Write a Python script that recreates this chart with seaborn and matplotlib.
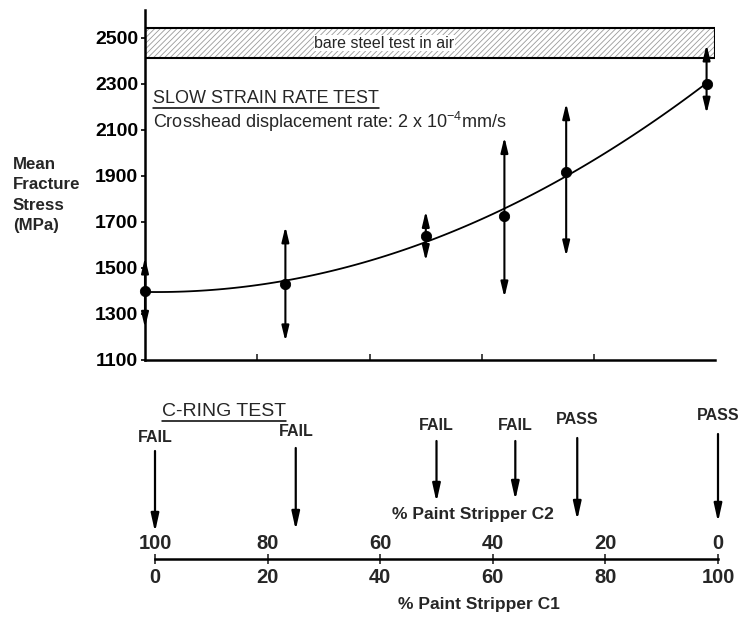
import numpy as np
import pandas as pd
import matplotlib
matplotlib.use("Agg")
import matplotlib.pyplot as plt
from matplotlib.lines import Line2D
import seaborn as sns

# ---------------- data ----------------
c1_pct = [0, 25, 50, 64, 75, 100]                 # % Paint Stripper C1
mean_stress = [1400, 1430, 1640, 1726, 1915, 2300]  # MPa
stress_high = [1545, 1680, 1747, 2068, 2215, 2470]
stress_low = [1240, 1181, 1530, 1372, 1550, 2170]
ring_result = ["FAIL", "FAIL", "FAIL", "FAIL", "PASS", "PASS"]
y_ticks = [1100, 1300, 1500, 1700, 1900, 2100, 2300, 2500]
c1_ticks = [0, 20, 40, 60, 80, 100]
c2_ticks = [100, 80, 60, 40, 20, 0]
band_low, band_high = 2410, 2540   # bare steel test in air

df = pd.DataFrame({"c1": c1_pct, "mean": mean_stress})
coef = np.polyfit(c1_pct, mean_stress, 2)
fit_x = np.linspace(0, 100, 101)
fit_df = pd.DataFrame({"c1": fit_x, "fit": np.polyval(coef, fit_x)})

# ---------------- style ----------------
sns.set_theme(style="white")
plt.rcParams["font.family"] = ["Liberation Sans", "DejaVu Sans"]
plt.rcParams["mathtext.fontset"] = "custom"
plt.rcParams["mathtext.rm"] = "Liberation Sans"
plt.rcParams["mathtext.it"] = "Liberation Sans:italic"
plt.rcParams["hatch.linewidth"] = 0.6

W, H = 742, 618
fig = plt.figure(figsize=(W / 100, H / 100), dpi=100)
fig.patch.set_facecolor("white")

# ---------------- top: slow strain rate test ----------------
ax = fig.add_axes([145 / W, 1 - 360 / H, 570 / W, 350 / H])
ax.set_xlim(0, 101.5)
ax.set_ylim(1100, 2620)
ax.set_facecolor("white")

sns.lineplot(data=fit_df, x="c1", y="fit", ax=ax, color="black", lw=1.3)
for x, lo, hi in zip(c1_pct, stress_low, stress_high):
    ax.annotate("", xy=(x, hi), xytext=(x, lo),
                arrowprops=dict(arrowstyle="<|-|>,head_length=0.75,head_width=0.18",
                                color="black", lw=1.5, shrinkA=0, shrinkB=0),
                annotation_clip=False)
sns.scatterplot(data=df, x="c1", y="mean", ax=ax, color="black", s=55,
                edgecolor="black", zorder=5, clip_on=False)

ax.axhspan(band_low, band_high, facecolor="white", hatch="//////",
           edgecolor="#9a9a9a", lw=0)
ax.axhspan(band_low, band_high, fill=False, edgecolor="black", lw=1.5)
ax.text(42.6, (band_low + band_high) / 2, "bare steel test in air", ha="center",
        va="center", fontsize=11.5,
        bbox=dict(facecolor="white", edgecolor="none", pad=0.3))

for s in ["top", "right"]:
    ax.spines[s].set_visible(False)
for s in ["left", "bottom"]:
    ax.spines[s].set_color("black")
    ax.spines[s].set_linewidth(1.8)

ax.set_yticks(y_ticks)
ax.set_yticklabels([str(v) for v in y_ticks], fontsize=14, fontweight="bold")
ax.set_xticks([20, 40, 60, 80])
ax.set_xticklabels([])
ax.tick_params(axis="y", direction="out", length=3, width=1.2, pad=2, colors="black", left=True)
ax.tick_params(axis="x", direction="in", length=4, width=1.2, bottom=True)
ax.set_xlabel("")
ax.set_ylabel("")

fig.text(13 / W, 1 - 195 / H, "Mean\nFracture\nStress\n(MPa)", ha="left", va="center",
         fontsize=12.2, fontweight="bold", linespacing=1.45)

t_slow = ax.text(1.5, 2236, "SLOW STRAIN RATE TEST", ha="left", va="center",
                 fontsize=13)
ax.text(1.5, 2135, "Crosshead displacement rate: 2 x 10$^{-4}$mm/s", ha="left",
        va="center", fontsize=13)

# ---------------- bottom: C-ring test ----------------
ax2 = fig.add_axes([155 / W, 0, 563 / W, 223 / H])
ax2.set_xlim(0, 100)
ax2.set_ylim(618, 395)
ax2.set_facecolor("none")
for s in ["top", "right", "left"]:
    ax2.spines[s].set_visible(False)
ax2.spines["bottom"].set_position(("data", 559))
ax2.spines["bottom"].set_linewidth(1.8)
ax2.spines["bottom"].set_color("black")
ax2.set_yticks([])
ax2.set_xticks(c1_ticks)
ax2.set_xticklabels([str(v) for v in c1_ticks], fontsize=14.5, fontweight="bold")
ax2.tick_params(axis="x", direction="inout", length=7, width=1.2, pad=3, bottom=True)
for x, lab in zip(c1_ticks, c2_ticks):
    ax2.text(x, 553, str(lab), ha="center", va="bottom", fontsize=14.5, fontweight="bold")

ax2.text(56.5, 514, "% Paint Stripper C2", ha="center", va="center", fontsize=12.5,
         fontweight="bold")
ax2.text(57.5, 605, "% Paint Stripper C1", ha="center", va="center", fontsize=12.5,
         fontweight="bold")
t_ring = ax2.text(1.2, 411, "C-RING TEST", ha="left", va="center", fontsize=14)

text_y = [437, 432, 425, 425, 420, 416]
arrow_top = [451, 448, 441, 441, 438, 434]
arrow_tip = [532, 530, 502, 500, 520, 522]
for x, res, ty, a0, a1 in zip(c1_pct, ring_result, text_y, arrow_top, arrow_tip):
    ax2.text(x, ty, res, ha="center", va="center", fontsize=11.5, fontweight="bold")
    ax2.annotate("", xy=(x, a1), xytext=(x, a0),
                 arrowprops=dict(arrowstyle="-|>,head_length=0.9,head_width=0.2",
                                 color="black", lw=1.6, shrinkA=0, shrinkB=0),
                 annotation_clip=False)

# underline titles
fig.canvas.draw()
r = fig.canvas.get_renderer()
inv = fig.transFigure.inverted()
for t in [t_slow, t_ring]:
    bb = t.get_window_extent(r)
    (x0, y0), (x1, _) = inv.transform([(bb.x0, bb.y0 - 1), (bb.x1, bb.y0 - 1)])
    fig.add_artist(Line2D([x0, x1], [y0, y0], color="black", lw=1.1,
                          transform=fig.transFigure))

fig.savefig("out.png", dpi=100, facecolor="white")
